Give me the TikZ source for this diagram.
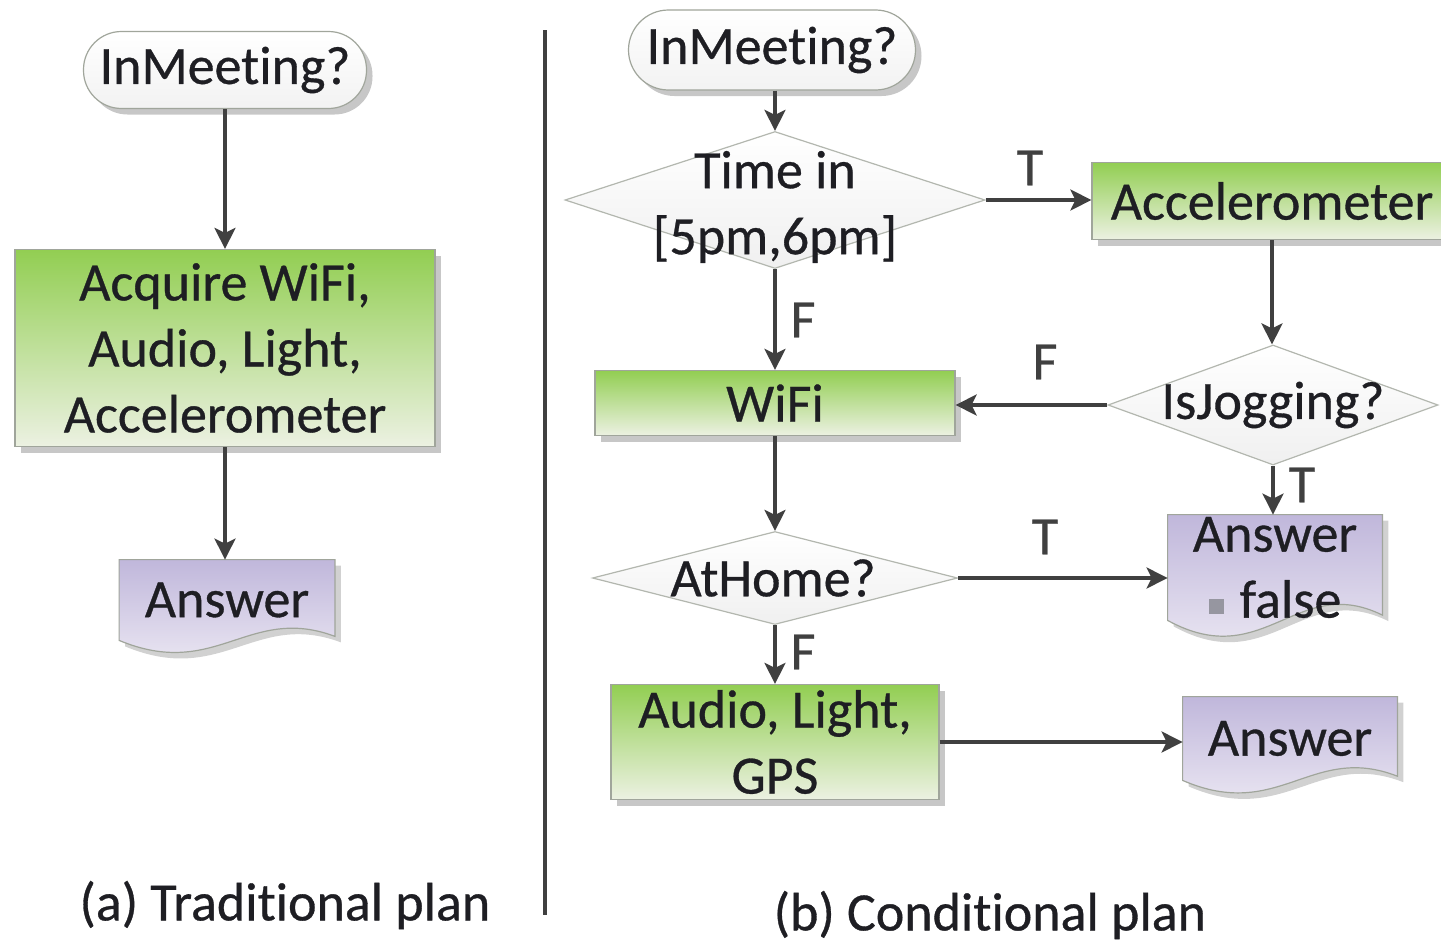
\documentclass[tikz,border=0pt]{standalone}
\usepackage{fontspec}
\setmainfont{Carlito}[FakeBold=0.6,Ligatures=NoCommon]
\usetikzlibrary{shapes.geometric,arrows.meta,shadows,calc,backgrounds}
\definecolor{gTop}{RGB}{146,206,82}
\definecolor{gBot}{RGB}{236,241,226}
\definecolor{pTop}{RGB}{192,183,219}
\definecolor{pBot}{RGB}{241,238,246}
\definecolor{bordc}{RGB}{160,165,155}
\definecolor{arrc}{RGB}{64,64,64}
\definecolor{txtc}{RGB}{30,30,35}
\definecolor{sqgray}{RGB}{150,150,160}
\newcommand{\docoutline}{(\x1,\y1) -- (\x2,\y1) -- (\x2,{\y2+0.05*(\y1-\y2)}) .. controls ({\x1+0.6*(\x2-\x1)},{\y2+0.45*(\y1-\y2)}) and ({\x1+0.45*(\x2-\x1)},{\y2-0.5*(\y1-\y2)}) .. (\x1,\y2) -- cycle}
\newcommand{\docshape}[1]{%
  \path[fill=black,opacity=0.18] let \p1=($(#1.north west)+(3pt,-3pt)$), \p2=($(#1.south east)+(3pt,-3pt)$) in \docoutline;
  \path[draw=bordc,line width=0.6pt,top color=pTop,bottom color=pBot] let \p1=(#1.north west), \p2=(#1.south east) in \docoutline;}
\begin{document}
\begin{tikzpicture}[x=0.5pt,y=-0.5pt,
  every node/.style={font=\fontsize{27}{33}\selectfont, text=txtc},
  shad/.style={drop shadow={shadow xshift=3pt,shadow yshift=-3pt,opacity=0.22,fill=black}},
  greenbox/.style={rectangle,draw=bordc,line width=0.6pt,top color=gTop,bottom color=gBot,align=center,inner sep=0pt,shad},
  termbox/.style={rectangle,rounded corners=19pt,draw=bordc,line width=0.6pt,top color=white,bottom color=gray!10,inner sep=0pt,shad},
  decbox/.style={diamond,draw=bordc!80,line width=0.6pt,top color=white,bottom color=gray!12,inner sep=0pt},
  docbox/.style={rectangle,draw=none,align=center,inner sep=0pt},
  dectext/.style={align=center,inner sep=0pt},
  arr/.style={draw=arrc,line width=1.6pt,-{Stealth[length=10.5pt,width=10.5pt,inset=2.5pt]}},
  lbl/.style={inner sep=0pt, text=arrc},
  captxt/.style={font=\fontsize{27}{30}\selectfont, text=txtc}
]
\useasboundingbox (0,0) rectangle (1441,942);

% ---------- (a) traditional plan ----------
\node[termbox,minimum width=141.5pt,minimum height=38.5pt] (t1) at (225,70) {InMeeting?};
\node[greenbox,minimum width=210pt,minimum height=98.5pt] (acq) at (225,348) {Acquire WiFi,\\Audio, Light,\\Accelerometer};
\node[docbox,minimum width=107.5pt,minimum height=40pt] (ans1) at (227,600) {Answer};
\node[captxt] (capA) at (285,905) {(a) Traditional plan};

\draw[arr] (t1.south) -- (acq.north);
\draw[arr] (acq.south) -- (acq.south |- ans1.north);

% separator
\coordinate (sepT) at (545,30);
\coordinate (sepB) at (545,915);
\draw[line width=1.6pt,draw=arrc] (sepT) -- (sepB);

% ---------- (b) conditional plan ----------
\node[termbox,minimum width=143.5pt,minimum height=40pt,rounded corners=20pt] (t2) at (772,50) {InMeeting?};
\node[decbox,minimum width=210pt,minimum height=68.5pt] (d1) at (775,200) {};
\node[dectext] (d1t) at (775,207) {Time in\\{[5pm,6pm]}};
\node[greenbox,minimum width=180pt,minimum height=38.5pt] (acc) at (1272,201) {Accelerometer};
\node[decbox,minimum width=165pt,minimum height=60pt] (d2) at (1273,405) {};
\node[dectext] (d2t) at (1273,405) {IsJogging?};
\node[greenbox,minimum width=180pt,minimum height=32.5pt] (wifi) at (775,403) {WiFi};
\node[decbox,minimum width=182.5pt,minimum height=46.5pt] (d3) at (775,578) {};
\node[dectext] (d3t) at (773,578) {AtHome?};
\node[docbox,minimum width=107pt,minimum height=52.5pt] (ans2) at (1275,567.5) {Answer\\\textcolor{sqgray}{\rule[2pt]{7.5pt}{7.5pt}}\hspace{8pt}false};
\node[greenbox,minimum width=164pt,minimum height=57.5pt] (aud) at (775,742) {Audio, Light,\\GPS};
\node[docbox,minimum width=107pt,minimum height=41.5pt] (ans3) at (1290,738.5) {Answer};
\node[captxt] (capB) at (990,915) {(b) Conditional plan};

\draw[arr] (t2.south -| d1.north) -- (d1.north);
\draw[arr] (d1.east) -- (d1.east -| acc.west);
\draw[arr] (acc.south) -- (acc.south |- d2.north);
\draw[arr] (d2.west) -- (d2.west -| wifi.east);
\draw[arr] (d1.south) -- (wifi.north);
\draw[arr] (wifi.south) -- (d3.north);
\draw[arr] (d3.east) -- (d3.east -| ans2.west);
\draw[arr] (d2.south) -- (d2.south |- ans2.north);
\draw[arr] (d3.south) -- (aud.north);
\draw[arr] (aud.east) -- (aud.east -| ans3.west);

\node[lbl] (lT1) at (1030,168) {T};
\node[lbl] (lF1) at (803,320) {F};
\node[lbl] (lF2) at (1045,362) {F};
\node[lbl] (lT2) at (1045,537) {T};
\node[lbl] (lT3) at (1302,485) {T};
\node[lbl] (lF3) at (803,652) {F};

\begin{scope}[on background layer]
  \fill[white] (0,0) rectangle (1441,942);
  \docshape{ans1}
  \docshape{ans2}
  \docshape{ans3}
\end{scope}
\end{tikzpicture}
\end{document}
